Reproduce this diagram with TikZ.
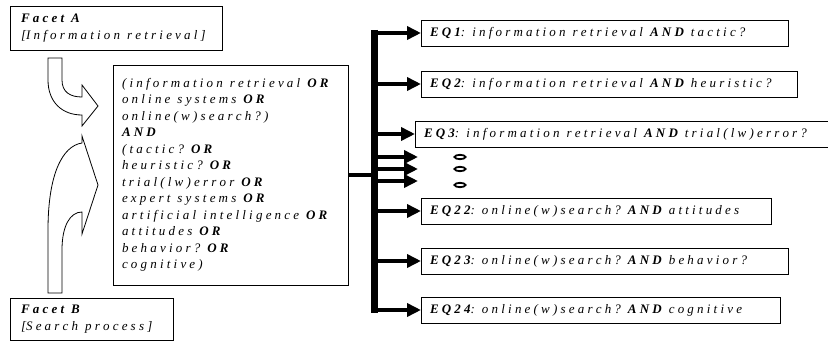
\documentclass[tikz,border=0pt]{standalone}
\usepackage{fontspec}
\setmainfont{Liberation Serif}
\usetikzlibrary{arrows.meta}
\XeTeXinterchartokenstate=1
\XeTeXinterchartoks 0 0 = {\kern3.2pt}
\newcommand{\kw}[1]{\textbf{#1}}
\newcommand{\ws}{\hspace{7pt}}
\newcommand{\boxfont}{\fontsize{13}{16.5}\selectfont\itshape}
\begin{document}
\begin{tikzpicture}[x=1pt,y=-1pt,inner sep=0pt,outer sep=0pt,
facetbox/.style={draw,line width=0.8pt,anchor=north west,align=left,inner xsep=11pt,font=\boxfont},
eqbox/.style={draw,line width=0.8pt,anchor=west,align=left,inner xsep=9pt,minimum height=26pt,font=\boxfont},
fatarrow/.style={line width=4.5pt,-{Triangle[length=14pt,width=13pt]}},
hook/.style={draw,fill=white,line width=0.8pt,line join=miter}]
\useasboundingbox (0,0) rectangle (828,342);
\draw (10,6) node[facetbox,text width=190pt,minimum height=44pt] (facetA) {\kw{Facet\ws A}\\{[}Information\ws retrieval]};
\draw (10,298) node[facetbox,text width=141pt,minimum height=42pt] (facetB) {\kw{Facet\ws B}\\{[}Search\ws process]};
\draw (113,65) node[facetbox,inner xsep=9pt,text width=217pt,minimum height=220pt] (query) {(information\ws retrieval\ws \kw{OR}\\
online\ws systems\ws \kw{OR}\\
online(w)search?)\\
\kw{AND}\\
(tactic?\ws \kw{OR}\\
heuristic?\ws \kw{OR}\\
trial(lw)error\ws \kw{OR}\\
expert\ws systems\ws \kw{OR}\\
artificial\ws intelligence\ws \kw{OR}\\
attitudes\ws \kw{OR}\\
behavior?\ws \kw{OR}\\
cognitive)};
% hook arrows from the facets
\draw[hook] (48,58) -- (62,58) -- (62,80) .. controls (62,92) and (70,97) .. (82,97) -- (82,85) -- (98,106) -- (82,126) -- (82,115) .. controls (62,115) and (48,102) .. (48,80) -- cycle;
\draw[hook] (48,293) -- (48,230) .. controls (48,175) and (62,146) .. (82,143) -- (82,136) -- (98,185) -- (82,234) -- (82,212) .. controls (70,212) and (62,226) .. (62,250) -- (62,293) -- cycle;
% search statements
\draw (421,33) node[eqbox,text width=349pt] (eq1) {\kw{EQ1}:\ws information\ws retrieval\ws \kw{AND}\ws tactic?};
\draw (421,84) node[eqbox,text width=358pt] (eq2) {\kw{EQ2}:\ws information\ws retrieval\ws \kw{AND}\ws heuristic?};
\draw (415,134) node[eqbox,text width=395pt] (eq3) {\kw{EQ3}:\ws information\ws retrieval\ws \kw{AND}\ws trial(lw)error?};
\draw (421,211) node[eqbox,text width=332pt] (eq22) {\kw{EQ22}:\ws online(w)search?\ws \kw{AND}\ws attitudes};
\draw (421,261) node[eqbox,text width=349pt] (eq23) {\kw{EQ23}:\ws online(w)search?\ws \kw{AND}\ws behavior?};
\draw (421,310) node[eqbox,text width=341pt] (eq24) {\kw{EQ24}:\ws online(w)search?\ws \kw{AND}\ws cognitive};
\coordinate (bustop) at (374,30);
\coordinate (busbot) at (374,313);
\coordinate (dots1) at (418,157);
\coordinate (dots2) at (418,169);
\coordinate (dots3) at (418,181);
\draw[line width=7pt] (bustop) -- (busbot);
\draw[line width=4.5pt] (query.east) -- (query.east -| bustop);
\foreach \eq in {eq1,eq2,eq3,eq22,eq23,eq24}
  \draw[fatarrow] (bustop |- \eq.west) -- (\eq.west);
\foreach \d in {dots1,dots2,dots3}
  \draw[fatarrow] (bustop |- \d) -- (\d);
\foreach \y in {157,169,185}
  \draw[line width=1.8pt] (460,\y) ellipse (5.5pt and 2.2pt);
\end{tikzpicture}
\end{document}
